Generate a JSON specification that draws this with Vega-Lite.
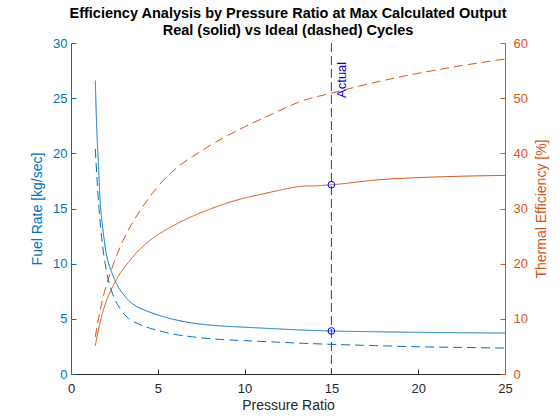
{
  "$schema": "https://vega.github.io/schema/vega-lite/v6.json",
  "autosize": "none",
  "padding": {"left": 71, "top": 43, "right": 55, "bottom": 46},
  "width": 434,
  "height": 331,
  "background": "white",
  "config": {
    "view": {"stroke": null},
    "font": "Liberation Sans",
    "axis": {"grid": false, "labelFontSize": 13, "titleFontSize": 14, "titleFontWeight": "normal", "tickSize": -5, "domainWidth": 1, "tickWidth": 1, "labelFlush": false}
  },
  "title": {
    "text": ["Efficiency Analysis by Pressure Ratio at Max Calculated Output", "Real (solid) vs Ideal (dashed) Cycles"],
    "fontSize": 14.5,
    "fontWeight": "bold",
    "color": "#000000",
    "anchor": "middle",
    "frame": "group",
    "offset": -1,
    "lineHeight": 17
  },
  "datasets": {
    "curves": [
      {"pr": 1.4, "value": 26.6, "quantity": "fuel", "kind": "Real"},
      {"pr": 1.45, "value": 23.8, "quantity": "fuel", "kind": "Real"},
      {"pr": 1.5, "value": 21.6, "quantity": "fuel", "kind": "Real"},
      {"pr": 1.57, "value": 19.4, "quantity": "fuel", "kind": "Real"},
      {"pr": 1.67, "value": 15.9, "quantity": "fuel", "kind": "Real"},
      {"pr": 1.8, "value": 13.6, "quantity": "fuel", "kind": "Real"},
      {"pr": 1.9, "value": 12.3, "quantity": "fuel", "kind": "Real"},
      {"pr": 2.0, "value": 11.2, "quantity": "fuel", "kind": "Real"},
      {"pr": 2.1, "value": 10.4, "quantity": "fuel", "kind": "Real"},
      {"pr": 2.3, "value": 9.4, "quantity": "fuel", "kind": "Real"},
      {"pr": 2.5, "value": 8.6, "quantity": "fuel", "kind": "Real"},
      {"pr": 2.7, "value": 7.95, "quantity": "fuel", "kind": "Real"},
      {"pr": 3.0, "value": 7.25, "quantity": "fuel", "kind": "Real"},
      {"pr": 3.3, "value": 6.7, "quantity": "fuel", "kind": "Real"},
      {"pr": 3.7, "value": 6.2, "quantity": "fuel", "kind": "Real"},
      {"pr": 4.3, "value": 5.75, "quantity": "fuel", "kind": "Real"},
      {"pr": 5.0, "value": 5.35, "quantity": "fuel", "kind": "Real"},
      {"pr": 6.2, "value": 4.85, "quantity": "fuel", "kind": "Real"},
      {"pr": 7.0, "value": 4.62, "quantity": "fuel", "kind": "Real"},
      {"pr": 8.1, "value": 4.42, "quantity": "fuel", "kind": "Real"},
      {"pr": 9.0, "value": 4.32, "quantity": "fuel", "kind": "Real"},
      {"pr": 10.0, "value": 4.24, "quantity": "fuel", "kind": "Real"},
      {"pr": 11.0, "value": 4.16, "quantity": "fuel", "kind": "Real"},
      {"pr": 12.0, "value": 4.08, "quantity": "fuel", "kind": "Real"},
      {"pr": 13.4, "value": 3.98, "quantity": "fuel", "kind": "Real"},
      {"pr": 15.0, "value": 3.9, "quantity": "fuel", "kind": "Real"},
      {"pr": 17.5, "value": 3.83, "quantity": "fuel", "kind": "Real"},
      {"pr": 20.0, "value": 3.78, "quantity": "fuel", "kind": "Real"},
      {"pr": 22.5, "value": 3.74, "quantity": "fuel", "kind": "Real"},
      {"pr": 25.0, "value": 3.71, "quantity": "fuel", "kind": "Real"},
      {"pr": 1.4, "value": 20.4, "quantity": "fuel", "kind": "Ideal"},
      {"pr": 1.5, "value": 17.6, "quantity": "fuel", "kind": "Ideal"},
      {"pr": 1.6, "value": 15.3, "quantity": "fuel", "kind": "Ideal"},
      {"pr": 1.7, "value": 13.4, "quantity": "fuel", "kind": "Ideal"},
      {"pr": 1.8, "value": 11.9, "quantity": "fuel", "kind": "Ideal"},
      {"pr": 1.9, "value": 10.7, "quantity": "fuel", "kind": "Ideal"},
      {"pr": 2.0, "value": 9.7, "quantity": "fuel", "kind": "Ideal"},
      {"pr": 2.11, "value": 8.8, "quantity": "fuel", "kind": "Ideal"},
      {"pr": 2.3, "value": 7.7, "quantity": "fuel", "kind": "Ideal"},
      {"pr": 2.53, "value": 6.75, "quantity": "fuel", "kind": "Ideal"},
      {"pr": 2.8, "value": 6.0, "quantity": "fuel", "kind": "Ideal"},
      {"pr": 3.3, "value": 5.04, "quantity": "fuel", "kind": "Ideal"},
      {"pr": 3.8, "value": 4.6, "quantity": "fuel", "kind": "Ideal"},
      {"pr": 4.3, "value": 4.28, "quantity": "fuel", "kind": "Ideal"},
      {"pr": 5.0, "value": 3.95, "quantity": "fuel", "kind": "Ideal"},
      {"pr": 6.2, "value": 3.53, "quantity": "fuel", "kind": "Ideal"},
      {"pr": 7.0, "value": 3.37, "quantity": "fuel", "kind": "Ideal"},
      {"pr": 8.1, "value": 3.19, "quantity": "fuel", "kind": "Ideal"},
      {"pr": 9.0, "value": 3.1, "quantity": "fuel", "kind": "Ideal"},
      {"pr": 10.0, "value": 3.02, "quantity": "fuel", "kind": "Ideal"},
      {"pr": 11.0, "value": 2.95, "quantity": "fuel", "kind": "Ideal"},
      {"pr": 12.0, "value": 2.88, "quantity": "fuel", "kind": "Ideal"},
      {"pr": 13.4, "value": 2.78, "quantity": "fuel", "kind": "Ideal"},
      {"pr": 15.0, "value": 2.69, "quantity": "fuel", "kind": "Ideal"},
      {"pr": 17.5, "value": 2.57, "quantity": "fuel", "kind": "Ideal"},
      {"pr": 20.0, "value": 2.47, "quantity": "fuel", "kind": "Ideal"},
      {"pr": 22.5, "value": 2.41, "quantity": "fuel", "kind": "Ideal"},
      {"pr": 25.0, "value": 2.35, "quantity": "fuel", "kind": "Ideal"},
      {"pr": 1.4, "value": 5.1, "quantity": "eff", "kind": "Real"},
      {"pr": 1.5, "value": 6.8, "quantity": "eff", "kind": "Real"},
      {"pr": 1.6, "value": 8.3, "quantity": "eff", "kind": "Real"},
      {"pr": 1.8, "value": 10.9, "quantity": "eff", "kind": "Real"},
      {"pr": 2.0, "value": 12.9, "quantity": "eff", "kind": "Real"},
      {"pr": 2.3, "value": 15.2, "quantity": "eff", "kind": "Real"},
      {"pr": 2.7, "value": 17.6, "quantity": "eff", "kind": "Real"},
      {"pr": 3.3, "value": 20.2, "quantity": "eff", "kind": "Real"},
      {"pr": 4.0, "value": 22.7, "quantity": "eff", "kind": "Real"},
      {"pr": 4.8, "value": 24.8, "quantity": "eff", "kind": "Real"},
      {"pr": 5.5, "value": 26.2, "quantity": "eff", "kind": "Real"},
      {"pr": 6.2, "value": 27.4, "quantity": "eff", "kind": "Real"},
      {"pr": 7.0, "value": 28.6, "quantity": "eff", "kind": "Real"},
      {"pr": 8.1, "value": 30.0, "quantity": "eff", "kind": "Real"},
      {"pr": 9.0, "value": 31.0, "quantity": "eff", "kind": "Real"},
      {"pr": 10.0, "value": 31.9, "quantity": "eff", "kind": "Real"},
      {"pr": 11.0, "value": 32.6, "quantity": "eff", "kind": "Real"},
      {"pr": 12.0, "value": 33.3, "quantity": "eff", "kind": "Real"},
      {"pr": 13.4, "value": 34.05, "quantity": "eff", "kind": "Real"},
      {"pr": 14.0, "value": 34.1, "quantity": "eff", "kind": "Real"},
      {"pr": 15.0, "value": 34.3, "quantity": "eff", "kind": "Real"},
      {"pr": 17.7, "value": 35.2, "quantity": "eff", "kind": "Real"},
      {"pr": 20.0, "value": 35.6, "quantity": "eff", "kind": "Real"},
      {"pr": 22.5, "value": 35.85, "quantity": "eff", "kind": "Real"},
      {"pr": 25.0, "value": 36.0, "quantity": "eff", "kind": "Real"},
      {"pr": 1.4, "value": 6.7, "quantity": "eff", "kind": "Ideal"},
      {"pr": 1.5, "value": 8.6, "quantity": "eff", "kind": "Ideal"},
      {"pr": 1.6, "value": 10.3, "quantity": "eff", "kind": "Ideal"},
      {"pr": 1.8, "value": 13.3, "quantity": "eff", "kind": "Ideal"},
      {"pr": 2.0, "value": 15.7, "quantity": "eff", "kind": "Ideal"},
      {"pr": 2.34, "value": 19.0, "quantity": "eff", "kind": "Ideal"},
      {"pr": 2.7, "value": 22.0, "quantity": "eff", "kind": "Ideal"},
      {"pr": 3.0, "value": 24.2, "quantity": "eff", "kind": "Ideal"},
      {"pr": 3.5, "value": 27.2, "quantity": "eff", "kind": "Ideal"},
      {"pr": 4.0, "value": 29.7, "quantity": "eff", "kind": "Ideal"},
      {"pr": 4.9, "value": 33.6, "quantity": "eff", "kind": "Ideal"},
      {"pr": 6.1, "value": 37.4, "quantity": "eff", "kind": "Ideal"},
      {"pr": 7.0, "value": 39.4, "quantity": "eff", "kind": "Ideal"},
      {"pr": 7.8, "value": 41.0, "quantity": "eff", "kind": "Ideal"},
      {"pr": 9.0, "value": 43.2, "quantity": "eff", "kind": "Ideal"},
      {"pr": 10.0, "value": 44.8, "quantity": "eff", "kind": "Ideal"},
      {"pr": 11.5, "value": 47.0, "quantity": "eff", "kind": "Ideal"},
      {"pr": 13.4, "value": 49.6, "quantity": "eff", "kind": "Ideal"},
      {"pr": 15.0, "value": 50.9, "quantity": "eff", "kind": "Ideal"},
      {"pr": 17.7, "value": 53.0, "quantity": "eff", "kind": "Ideal"},
      {"pr": 20.0, "value": 54.5, "quantity": "eff", "kind": "Ideal"},
      {"pr": 22.5, "value": 55.9, "quantity": "eff", "kind": "Ideal"},
      {"pr": 25.0, "value": 57.1, "quantity": "eff", "kind": "Ideal"}
    ],
    "actual": [
      {"pr": 15, "value": 3.9, "quantity": "fuel"},
      {"pr": 15, "value": 34.3, "quantity": "eff"}
    ]
  },
  "layer": [
    {
      "layer": [
        {
          "data": {"name": "curves"},
          "transform": [{"filter": "datum.quantity == 'fuel'"}],
          "mark": {"type": "line", "color": "#0072BD", "strokeWidth": 1, "interpolate": "monotone"},
          "encoding": {
            "x": {
              "field": "pr", "type": "quantitative", "title": "Pressure Ratio",
              "scale": {"domain": [0, 25], "nice": false},
              "axis": {"values": [0, 5, 10, 15, 20, 25], "domainColor": "#262626", "tickColor": "#262626", "labelColor": "#262626", "titleColor": "#262626", "labelPadding": 13, "titlePadding": 3}
            },
            "y": {
              "field": "value", "type": "quantitative", "title": "Fuel Rate [kg/sec]",
              "scale": {"domain": [0, 30], "nice": false},
              "axis": {"orient": "left", "values": [0, 5, 10, 15, 20, 25, 30], "domainColor": "#0072BD", "tickColor": "#0072BD", "labelColor": "#0072BD", "titleColor": "#0072BD", "labelPadding": 9, "titlePadding": 8}
            },
            "strokeDash": {
              "field": "kind", "type": "nominal",
              "scale": {"domain": ["Real", "Ideal"], "range": [[1, 0], [9, 5]]},
              "legend": null
            }
          }
        },
        {
          "data": {"name": "actual"},
          "transform": [{"filter": "datum.quantity == 'fuel'"}],
          "mark": {"type": "rule", "color": "#3030D8", "strokeWidth": 1, "strokeDash": [9, 4]},
          "encoding": {
            "x": {"field": "pr", "type": "quantitative"}
          }
        },
        {
          "data": {"name": "actual"},
          "transform": [{"filter": "datum.quantity == 'fuel'"}],
          "mark": {"type": "text", "text": "Actual", "angle": 270, "align": "right", "baseline": "top", "dy": 5, "fontSize": 13, "color": "#0000E0"},
          "encoding": {
            "x": {"field": "pr", "type": "quantitative"},
            "y": {"datum": 28.3, "type": "quantitative"}
          }
        },
        {
          "data": {"name": "actual"},
          "transform": [{"filter": "datum.quantity == 'fuel'"}],
          "mark": {"type": "point", "shape": "circle", "filled": false, "size": 45, "stroke": "#0000FF", "strokeWidth": 1, "opacity": 1},
          "encoding": {
            "x": {"field": "pr", "type": "quantitative"},
            "y": {"field": "value", "type": "quantitative"}
          }
        }
      ]
    },
    {
      "layer": [
        {
          "data": {"name": "curves"},
          "transform": [{"filter": "datum.quantity == 'eff'"}],
          "mark": {"type": "line", "color": "#D95319", "strokeWidth": 1, "interpolate": "monotone"},
          "encoding": {
            "x": {"field": "pr", "type": "quantitative"},
            "y": {
              "field": "value", "type": "quantitative", "title": "Thermal Efficiency [%]",
              "scale": {"domain": [0, 60], "nice": false},
              "axis": {"orient": "right", "values": [0, 10, 20, 30, 40, 50, 60], "domainColor": "#D95319", "tickColor": "#D95319", "labelColor": "#D95319", "titleColor": "#D95319", "labelPadding": 13, "titlePadding": 21, "titleAngle": 270}
            },
            "strokeDash": {
              "field": "kind", "type": "nominal",
              "scale": {"domain": ["Real", "Ideal"], "range": [[1, 0], [9, 5]]},
              "legend": null
            }
          }
        },
        {
          "data": {"name": "actual"},
          "transform": [{"filter": "datum.quantity == 'eff'"}],
          "mark": {"type": "point", "shape": "circle", "filled": false, "size": 45, "stroke": "#0000FF", "strokeWidth": 1, "opacity": 1},
          "encoding": {
            "x": {"field": "pr", "type": "quantitative"},
            "y": {"field": "value", "type": "quantitative"}
          }
        }
      ]
    }
  ],
  "resolve": {"scale": {"y": "independent"}}
}
